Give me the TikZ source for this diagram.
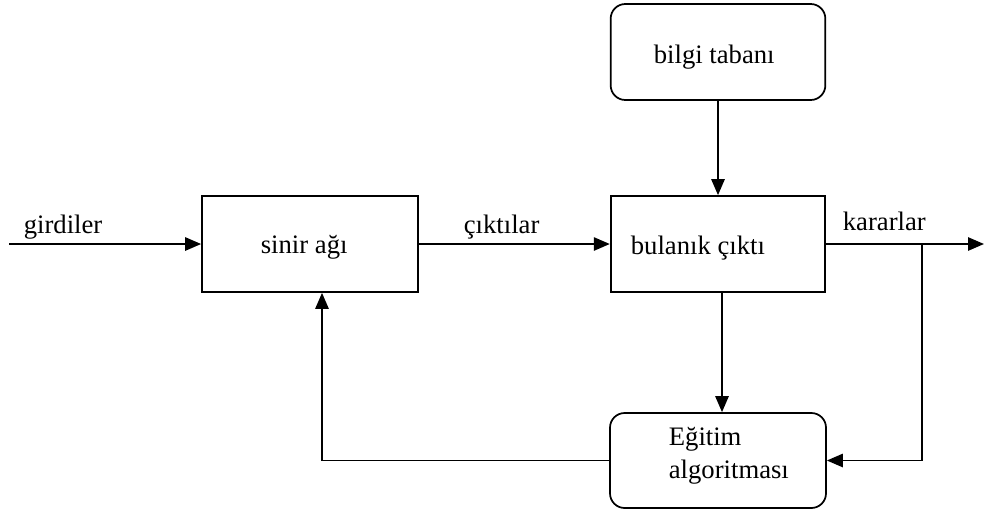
\documentclass[tikz,border=0pt]{standalone}
\usepackage{fontspec}
\setmainfont{Liberation Serif}
\usetikzlibrary{arrows.meta,calc}
\begin{document}
\begin{tikzpicture}[x=0.75pt,y=-0.75pt,
  line width=1.3pt,
  box/.style={draw,line width=1.3pt,inner sep=0pt,minimum height=72pt},
  rbox/.style={box,rounded corners=11pt},
  txt/.style={font=\fontsize{20}{22}\selectfont,inner sep=0pt,anchor=base west},
  arr/.style={-{Triangle[length=12pt,width=10pt]}}]
\path[use as bounding box] (0,0) rectangle (984,511);
% boxes
\node[rbox,minimum width=161pt] (bilgi) at (718,52) {};
\node[box,minimum width=162pt] (sinir) at (310,244) {};
\node[box,minimum width=161pt] (bulanik) at (718,244) {};
\node[rbox,minimum width=162pt,minimum height=71.25pt] (egitim) at (718,460.5) {};
% texts
\node[txt] (t1) at (653,63) {bilgi tabanı};
\node[txt] (t2) at (23,233) {girdiler};
\node[txt] (t3) at (260,253) {sinir ağı};
\node[txt] (t4) at (463,233) {çıktılar};
\node[txt] (t5) at (630,254) {bulanık çıktı};
\node[txt] (t6) at (842,230) {kararlar};
\node[txt] (t7) at (668,445) {Eğitim};
\node[txt] (t8) at (668,478) {algoritması};
% free ends
\coordinate (in) at (9,244);
\coordinate (out) at (984,244);
\coordinate (br) at (922,244);
\coordinate (fb) at (322,460.5);
% connectors
\draw[arr] (in) -- (sinir.west);
\draw[arr] (sinir.east) -- (bulanik.west);
\draw[arr] (bilgi.south) -- (bulanik.north);
\draw[arr] (bulanik.east) -- (out);
\draw[arr] ([xshift=3pt]bulanik.south) -- ([xshift=3pt]egitim.north);
\draw[arr] (br) -- (br |- egitim.east) -- (egitim.east);
\draw[arr] (egitim.west) -- (fb) -- (fb |- sinir.south);
\end{tikzpicture}
\end{document}
